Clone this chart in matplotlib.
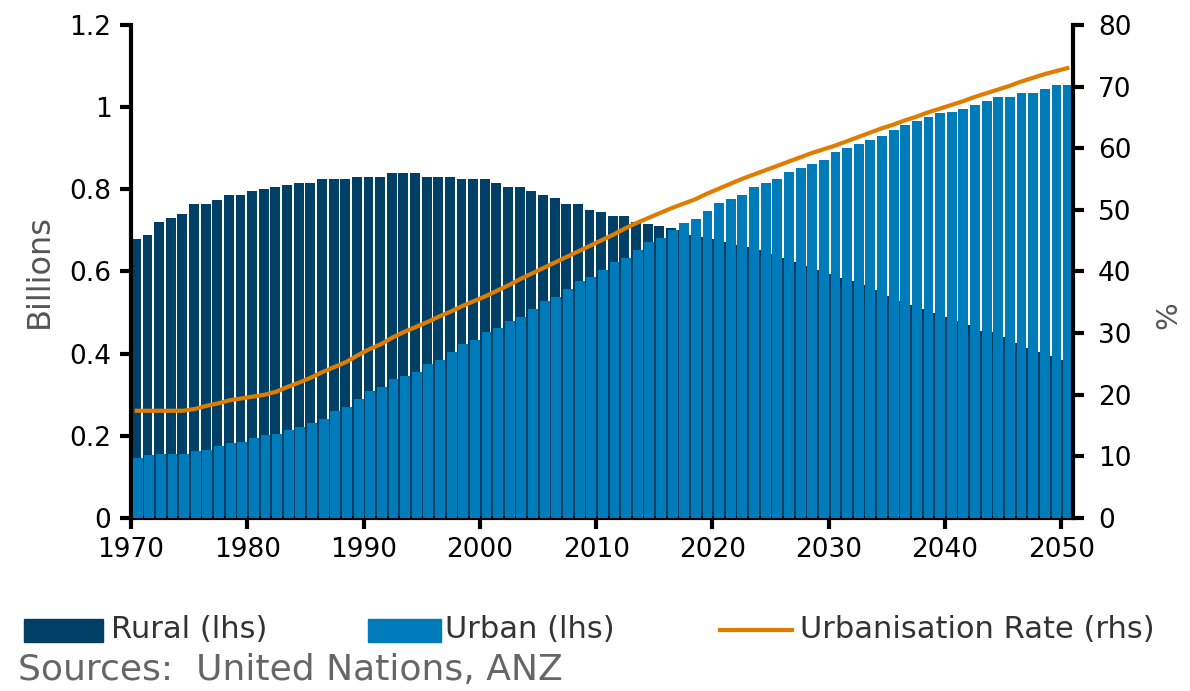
import matplotlib
matplotlib.use("Agg")
import matplotlib.pyplot as plt
from matplotlib.patches import Rectangle
from matplotlib.lines import Line2D
import numpy as np

years = np.arange(1970, 2051)

# billions
rural = [0.680, 0.690, 0.720, 0.730, 0.740, 0.765, 0.765, 0.775, 0.785, 0.785,
         0.795, 0.800, 0.805, 0.810, 0.815, 0.815, 0.825, 0.825, 0.825, 0.830,
         0.830, 0.830, 0.840, 0.840, 0.840, 0.830, 0.830, 0.830, 0.825, 0.825,
         0.825, 0.815, 0.805, 0.805, 0.795, 0.785, 0.780, 0.765, 0.765, 0.750,
         0.745, 0.735, 0.735, 0.720, 0.715, 0.710, 0.705, 0.700, 0.690, 0.685,
         0.680, 0.672, 0.665, 0.660, 0.652, 0.642, 0.633, 0.622, 0.613, 0.603,
         0.594, 0.585, 0.577, 0.567, 0.555, 0.540, 0.528, 0.518, 0.508, 0.498,
         0.489, 0.480, 0.470, 0.455, 0.453, 0.440, 0.425, 0.414, 0.404, 0.395,
         0.384]
urban = [0.146, 0.153, 0.156, 0.156, 0.156, 0.162, 0.165, 0.175, 0.183, 0.185,
         0.195, 0.203, 0.205, 0.214, 0.221, 0.231, 0.241, 0.260, 0.270, 0.290,
         0.309, 0.319, 0.338, 0.345, 0.355, 0.375, 0.384, 0.404, 0.423, 0.433,
         0.453, 0.462, 0.479, 0.489, 0.509, 0.528, 0.538, 0.557, 0.577, 0.586,
         0.603, 0.623, 0.633, 0.652, 0.672, 0.681, 0.701, 0.718, 0.727, 0.747,
         0.766, 0.776, 0.786, 0.805, 0.815, 0.825, 0.842, 0.852, 0.861, 0.871,
         0.890, 0.900, 0.910, 0.920, 0.929, 0.945, 0.956, 0.966, 0.976, 0.985,
         0.988, 0.995, 1.005, 1.015, 1.024, 1.024, 1.034, 1.034, 1.044, 1.054,
         1.054]
# urbanisation rate, %
rate = [17.4, 17.4, 17.4, 17.4, 17.4, 17.7, 18.2, 18.6, 19.1, 19.4,
        19.7, 20.0, 20.5, 21.3, 22.0, 22.8, 23.7, 24.5, 25.3, 26.4,
        27.4, 28.2, 29.3, 30.2, 31.0, 31.8, 32.7, 33.5, 34.4, 35.2,
        36.0, 36.9, 37.8, 38.8, 39.7, 40.6, 41.5, 42.4, 43.3, 44.2,
        45.1, 46.0, 47.0, 47.9, 48.7, 49.5, 50.3, 51.0, 51.7, 52.6,
        53.4, 54.2, 55.0, 55.7, 56.4, 57.1, 57.8, 58.5, 59.2, 59.8,
        60.4, 61.1, 61.8, 62.5, 63.2, 63.8, 64.5, 65.1, 65.8, 66.4,
        67.0, 67.6, 68.3, 68.9, 69.5, 70.1, 70.8, 71.4, 72.0, 72.5,
        73.0]

dark = '#004066'
light = '#007bb9'
orange = '#e07d00'

fig = plt.figure(figsize=(11.9, 6.91), dpi=100)
ax = fig.add_axes([0.110, 0.2504, 0.7917, 0.7134])

centre = years + 0.5
ax.bar(centre - 0.075, rural, width=0.85, color=dark, linewidth=0, zorder=2)
ax.bar(centre + 0.075, urban, width=0.85, color=light, linewidth=0, zorder=3)

ax.set_xlim(1970, 2051)
ax.set_ylim(0, 1.2)
ax.set_xticks(np.arange(1970, 2051, 10))
ax.set_yticks([0, 0.2, 0.4, 0.6, 0.8, 1.0, 1.2])
ax.set_yticklabels(['0', '0.2', '0.4', '0.6', '0.8', '1', '1.2'])
ax.set_ylabel('Billions', fontsize=23, color='#555555')
ax.yaxis.set_label_coords(-0.110 + 28 / 942, 0.5)

ax2 = ax.twinx()
ax2.plot(centre, rate, color=orange, linewidth=3, zorder=5)
ax2.set_ylim(0, 80)
ax2.set_yticks(np.arange(0, 81, 10))

for a in (ax, ax2):
    for s in a.spines.values():
        s.set_linewidth(3)
        s.set_color('black')
    a.spines['top'].set_visible(False)
    a.tick_params(direction='out', length=8, width=3, labelsize=19,
                  labelcolor='black', pad=6)
ax2.tick_params(pad=10)
ax.spines['right'].set_visible(False)
ax2.spines['left'].set_visible(False)
ax2.spines['bottom'].set_visible(False)

fig.text(1168 / 1190, 1 - 315 / 691, '%', fontsize=21, color='#555555',
         rotation=90, ha='center', va='center')

# legend, drawn by hand along the bottom
fig.add_artist(Rectangle((24 / 1190, 1 - 642 / 691), 79 / 1190, 23 / 691,
                         transform=fig.transFigure, color=dark))
fig.add_artist(Rectangle((368 / 1190, 1 - 642 / 691), 73 / 1190, 23 / 691,
                         transform=fig.transFigure, color=light))
fig.add_artist(Line2D([720 / 1190, 792 / 1190], [1 - 630 / 691, 1 - 630 / 691],
                      transform=fig.transFigure, color=orange, linewidth=3))
for xpix, txt in [(111, 'Rural (lhs)'), (445, 'Urban (lhs)'),
                  (800, 'Urbanisation Rate (rhs)')]:
    fig.text(xpix / 1190, 1 - 629 / 691, txt, fontsize=22, color='#333333',
             ha='left', va='center')
fig.text(18 / 1190, 1 - 670 / 691, 'Sources:  United Nations, ANZ',
         fontsize=26, color='#666666', ha='left', va='center')

fig.savefig('out.png', dpi=100)
